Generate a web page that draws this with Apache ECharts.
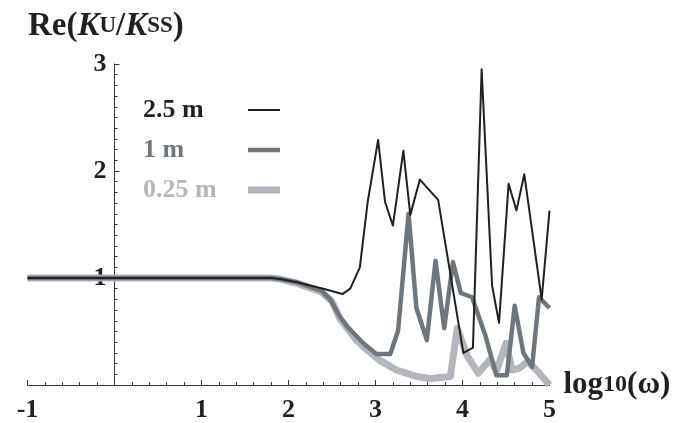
<!DOCTYPE html>
<html>
<head>
<meta charset="utf-8">
<script src="https://cdn.jsdelivr.net/npm/echarts@6/dist/echarts.min.js"></script>
<style>
  html, body { margin: 0; padding: 0; background: #fff; }
  #chart { width: 688px; height: 423px; }
</style>
</head>
<body>
<div id="chart"></div>
<script>
// [log10(omega), Re(Ku/Kss)]
const line25m = [
  [-1, 1], [1.8, 1], [1.9, 0.99], [2.1, 0.96], [2.4, 0.9], [2.62, 0.85], [2.71, 0.9],
  [2.82, 1.1], [2.91, 1.71], [3.03, 2.29], [3.11, 1.71], [3.2, 1.49], [3.32, 2.19],
  [3.4, 1.59], [3.51, 1.92], [3.72, 1.73], [4.01, 0.3], [4.12, 0.35], [4.22, 2.95],
  [4.34, 0.93], [4.42, 0.58], [4.53, 1.88], [4.62, 1.63], [4.71, 1.97], [4.91, 0.8],
  [5.0, 1.63]
];
const line1m = [
  [-1, 1], [1.8, 1], [1.9, 0.99], [2.1, 0.96], [2.38, 0.88], [2.48, 0.8], [2.59, 0.64],
  [2.67, 0.55], [2.86, 0.39], [3.01, 0.29], [3.17, 0.29], [3.26, 0.51], [3.38, 1.6],
  [3.47, 0.72], [3.59, 0.42], [3.69, 1.16], [3.79, 0.53], [3.89, 1.15], [3.98, 0.86],
  [4.11, 0.82], [4.26, 0.47], [4.39, 0.09], [4.51, 0.09], [4.6, 0.74], [4.7, 0.3],
  [4.8, 0.17], [4.88, 0.82], [5.0, 0.72]
];
const line025m = [
  [-1, 1], [1.8, 1], [1.9, 0.99], [2.1, 0.95], [2.38, 0.87], [2.5, 0.78], [2.59, 0.62],
  [2.78, 0.42], [2.9, 0.33], [3.05, 0.23], [3.24, 0.14], [3.47, 0.08], [3.63, 0.06],
  [3.86, 0.08], [3.94, 0.53], [4.05, 0.28], [4.18, 0.11], [4.32, 0.24], [4.39, 0.13],
  [4.5, 0.39], [4.57, 0.14], [4.66, 0.16], [4.75, 0.22], [4.85, 0.14], [5.0, 0.0]
];
const seriesNames = ['0.25 m', '1 m', '2.5 m'];
const seriesColors = ['#b3b6bc', '#6f777c', '#231f20'];
const seriesWidths = [7, 4.5, 2];

const serif = 'Liberation Serif';
const chart = echarts.init(document.getElementById('chart'), null, { renderer: 'canvas' });

const legendTops = [177, 137, 97];
const legendFont = 26;
// text + gap before the legend line sample, so the samples line up
const legendTextBox = 100;
const measureCtx = document.createElement('canvas').getContext('2d');
measureCtx.font = 'bold ' + legendFont + 'px "' + serif + '"';

// plot is 522px wide for 6 units; the y axis sits at x = 0
const unitPx = 522 / 6;

const option = {
  animation: false,
  title: {
    left: 23,
    top: 5,
    text: '{n|Re(}{k|K}{s|U}{n|/}{k|K}{s|SS}{n|)}',
    textStyle: {
      rich: {
        n: { fontFamily: serif, fontWeight: 'bold', fontSize: 33, color: '#231f20' },
        k: { fontFamily: serif, fontWeight: 'bold', fontStyle: 'italic', fontSize: 33, color: '#231f20' },
        s: { fontFamily: serif, fontWeight: 'bold', fontSize: 23, color: '#231f20' }
      }
    }
  },
  legend: seriesNames.map((name, i) => {
    const w = measureCtx.measureText(name).width;
    return {
      data: [name],
      left: 143,
      top: legendTops[i],
      padding: 0,
      orient: 'vertical',
      align: 'right',
      icon: 'rect',
      itemWidth: 32,
      itemHeight: seriesWidths[i],
      selectedMode: false,
      textStyle: {
        fontFamily: serif,
        fontWeight: 'bold',
        fontSize: legendFont,
        color: seriesColors[i],
        padding: [0, Math.max(0, legendTextBox - w), 0, 0]
      }
    };
  }),
  grid: { left: 27.5, right: 138.5, top: 64, bottom: 38 },
  xAxis: {
    type: 'value',
    min: -1,
    max: 5,
    interval: 1,
    name: '{a|log}{b|10}{a|(ω)}',
    nameLocation: 'end',
    nameGap: 14,
    nameTextStyle: {
      rich: {
        a: { fontFamily: serif, fontWeight: 'bold', fontSize: 31, color: '#231f20' },
        b: { fontFamily: serif, fontWeight: 'bold', fontSize: 24, color: '#231f20' }
      }
    },
    axisLine: { onZero: true, lineStyle: { color: '#333', width: 1 } },
    axisTick: { inside: true, length: 5, lineStyle: { color: '#333' } },
    minorTick: { show: true, splitNumber: 5, length: 3, lineStyle: { color: '#333' } },
    splitLine: { show: false },
    axisLabel: {
      margin: 12,
      fontFamily: serif,
      fontWeight: 'bold',
      fontSize: 26,
      color: '#231f20',
      formatter: v => (v === 0 ? '' : String(v))
    }
  },
  yAxis: {
    type: 'value',
    min: 0,
    max: 3,
    interval: 1,
    offset: -unitPx,
    axisLine: { show: true, onZero: false, lineStyle: { color: '#333', width: 1 } },
    axisTick: { show: true, inside: true, length: 5, lineStyle: { color: '#333' } },
    minorTick: { show: true, splitNumber: 10, length: 3, lineStyle: { color: '#333' } },
    splitLine: { show: false },
    axisLabel: {
      margin: 8,
      fontFamily: serif,
      fontWeight: 'bold',
      fontSize: 26,
      color: '#231f20',
      formatter: v => (v === 0 ? '' : String(v))
    }
  },
  series: [line025m, line1m, line25m].map((data, i) => ({
    name: seriesNames[i],
    type: 'line',
    data: data,
    showSymbol: false,
    symbol: 'none',
    color: seriesColors[i],
    itemStyle: { color: seriesColors[i] },
    lineStyle: { color: seriesColors[i], width: seriesWidths[i], join: 'round' },
    z: 2 + i
  }))
};

chart.setOption(option);
</script>
</body>
</html>
